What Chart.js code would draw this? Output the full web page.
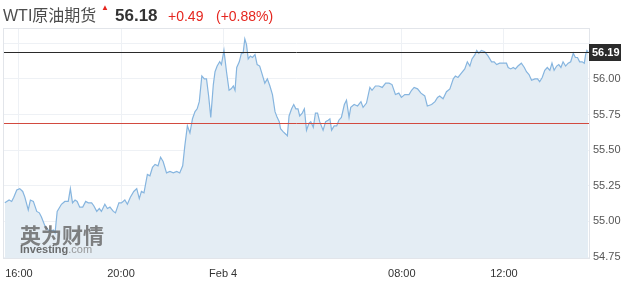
<!DOCTYPE html>
<html>
<head>
<meta charset="utf-8">
<script src="https://cdn.jsdelivr.net/npm/chart.js@4/dist/chart.umd.min.js"></script>
<style>
  html, body { margin: 0; padding: 0; background: #fff; }
  #wti { display: block; }
</style>
</head>
<body>
<canvas id="wti" width="623" height="290"></canvas>
<script>
// Trading minutes since 16:00 (Feb 3), daily break 06:00-07:00 taken out
const times = [
  -33, -23, -17, -12, -5, 2, 9, 14, 22, 27,
  34, 42, 48, 53, 61, 69, 74, 81, 85, 90,
  100, 108, 116, 121, 126, 132, 137, 143, 150, 157,
  163, 171, 176, 183, 189, 194, 202, 208, 214, 222,
  227, 235, 241, 249, 255, 262, 270, 277, 283, 288,
  294, 302, 308, 314, 320, 327, 333, 339, 347, 355,
  363, 371, 378, 385, 390, 396, 402, 408, 414, 419,
  424, 430, 436, 441, 446, 451, 457, 461, 466, 472,
  476, 482, 488, 494, 499, 504, 508, 512, 518, 523,
  527, 531, 535, 539, 544, 549, 555, 560, 566, 571,
  578, 584, 590, 596, 602, 607, 612, 615, 621, 628,
  631, 635, 641, 646, 651, 656, 660,
  666, 671, 676, 682, 686, 692, 697, 702, 707, 715,
  721, 727, 731, 735, 741, 747, 752, 758, 765, 770,
  776, 780, 788, 796, 804, 809, 817, 825, 830, 838,
  846, 854, 862, 870, 877, 885, 893, 899, 907, 917,
  923, 929, 937, 945, 954, 960, 970, 978, 984, 989,
  997, 1005, 1013, 1021, 1026, 1032, 1040, 1048, 1054, 1060,
  1065, 1072, 1076, 1081, 1087, 1095, 1103, 1111, 1117, 1123,
  1130, 1138, 1146, 1150, 1156, 1162, 1167, 1173, 1181, 1188,
  1193, 1199, 1205, 1213, 1219, 1224, 1230, 1236, 1242, 1248,
  1253, 1258, 1264, 1269, 1274, 1279, 1285, 1291, 1297, 1303,
  1308, 1313, 1318, 1324, 1329, 1332, 1335, 1338,
];

const prices = [
  55.13, 55.15, 55.14, 55.17, 55.22, 55.23, 55.21, 55.17, 55.08, 55.15,
  55.14, 55.07, 55.06, 55.03, 54.97, 54.94, 54.93, 54.94, 54.92, 55.07,
  55.12, 55.14, 55.14, 55.23, 55.13, 55.15, 55.14, 55.10, 55.10, 55.14,
  55.13, 55.13, 55.11, 55.07, 55.09, 55.07, 55.12, 55.09, 55.10, 55.07,
  55.06, 55.13, 55.13, 55.15, 55.12, 55.17, 55.21, 55.23, 55.16, 55.21,
  55.20, 55.33, 55.32, 55.38, 55.40, 55.39, 55.45, 55.42, 55.34, 55.35,
  55.34, 55.35, 55.34, 55.39, 55.53, 55.67, 55.62, 55.72, 55.77, 55.79,
  55.84, 56.02, 56.00, 56.00, 55.88, 55.73, 55.96, 56.05, 56.09, 56.12,
  56.10, 56.20, 56.05, 55.92, 55.93, 55.95, 55.92, 56.08, 56.12, 56.18,
  56.18, 56.28, 56.24, 56.14, 56.16, 56.15, 56.17, 56.10, 56.09, 56.04,
  55.97, 56.00, 55.95, 55.89, 55.77, 55.73, 55.70, 55.65, 55.63, 55.61,
  55.60, 55.74, 55.79, 55.82, 55.79, 55.79, 55.74,
  55.76, 55.79, 55.64, 55.69, 55.70, 55.66, 55.76, 55.76, 55.70, 55.64,
  55.70, 55.71, 55.72, 55.64, 55.67, 55.67, 55.71, 55.73, 55.82, 55.85,
  55.73, 55.80, 55.82, 55.81, 55.84, 55.80, 55.83, 55.94, 55.92, 55.95,
  55.95, 55.94, 55.97, 55.97, 55.96, 55.89, 55.90, 55.87, 55.89, 55.89,
  55.92, 55.94, 55.93, 55.90, 55.88, 55.81, 55.82, 55.84, 55.87, 55.88,
  55.86, 55.91, 55.93, 56.00, 56.02, 56.01, 56.04, 56.07, 56.12, 56.09,
  56.14, 56.17, 56.20, 56.18, 56.20, 56.19, 56.16, 56.12, 56.12, 56.10,
  56.11, 56.11, 56.11, 56.08, 56.07, 56.08, 56.07, 56.09, 56.11, 56.08,
  56.05, 56.03, 55.99, 56.00, 56.00, 55.98, 56.01, 56.06, 56.08, 56.06,
  56.11, 56.06, 56.09, 56.10, 56.08, 56.12, 56.09, 56.11, 56.12, 56.18,
  56.15, 56.15, 56.12, 56.12, 56.11, 56.17, 56.20, 56.19,
];

const tickTimes = [0, 240, 480, 900, 1140];
const tickLabels = ["16:00", "20:00", "Feb 4", "08:00", "12:00"];
const priceTicks = [54.75, 55.0, 55.25, 55.5, 55.75, 56.0, 56.25];

const lastPrice = 56.19;
const prevClose = 55.69;

// header text
const headName = "WTI原油期货";
const headPrice = "56.18";
const headChange = "+0.49";
const headPct = "(+0.88%)";

const FONT = "'Liberation Sans', Arial, 'Noto Sans CJK SC', sans-serif";

// Header, frame, reference lines, price tag, watermark
const decorPlugin = {
  id: "decor",
  beforeDatasetsDraw(chart) {
    const { ctx, chartArea: a } = chart;
    ctx.save();
    ctx.strokeStyle = "#e2e5ea";
    ctx.lineWidth = 1;
    ctx.strokeRect(a.left - 0.5, a.top - 0.5, a.right - a.left + 1, a.bottom - a.top + 1);
    ctx.restore();
  },
  afterDatasetsDraw(chart) {
    const { ctx, chartArea: a, scales } = chart;
    const y = scales.y;
    ctx.save();

    // watermark
    ctx.globalAlpha = 0.85;
    ctx.fillStyle = "#6b6b6b";
    ctx.font = "bold 21px 'Noto Sans CJK SC', sans-serif";
    ctx.textBaseline = "alphabetic";
    ctx.fillText("英为财情", a.left + 16, 243);
    ctx.fillStyle = "#555";
    ctx.font = "bold 11px " + FONT;
    ctx.fillText("Investing", a.left + 16, 253);
    const iw = ctx.measureText("Investing").width;
    ctx.fillStyle = "#8a8a8a";
    ctx.font = "11px " + FONT;
    ctx.fillText(".com", a.left + 16 + iw, 253);
    ctx.globalAlpha = 1;

    // previous close (red) and last price (dark) lines
    const yPrev = Math.round(y.getPixelForValue(prevClose)) + 0.5;
    const yLast = Math.round(y.getPixelForValue(lastPrice)) + 0.5;
    ctx.lineWidth = 1;
    ctx.strokeStyle = "#d24a3f";
    ctx.beginPath();
    ctx.moveTo(a.left, yPrev);
    ctx.lineTo(a.right, yPrev);
    ctx.stroke();
    ctx.strokeStyle = "#2a2a2a";
    ctx.beginPath();
    ctx.moveTo(a.left, yLast);
    ctx.lineTo(a.right, yLast);
    ctx.stroke();

    // price tag on the axis
    ctx.fillStyle = "#2b2b2b";
    ctx.fillRect(a.right, yLast - 8.5, 32, 17);
    ctx.fillStyle = "#fff";
    ctx.font = "bold 11px " + FONT;
    ctx.textBaseline = "middle";
    ctx.fillText(lastPrice.toFixed(2), a.right + 3, yLast + 0.5);
    ctx.restore();
  },
  afterDraw(chart) {
    const ctx = chart.ctx;
    ctx.save();
    ctx.textBaseline = "alphabetic";
    ctx.fillStyle = "#4d4d4d";
    ctx.font = "16px " + FONT;
    ctx.fillText(headName, 3, 21);
    ctx.fillStyle = "#e5261f";
    ctx.font = "8px " + FONT;
    ctx.fillText("▲", 101, 10);
    ctx.fillStyle = "#333";
    ctx.font = "bold 17px " + FONT;
    ctx.fillText(headPrice, 115, 21);
    ctx.fillStyle = "#e5261f";
    ctx.font = "14px " + FONT;
    ctx.fillText(headChange, 168, 21);
    ctx.fillText(headPct, 216, 21);
    ctx.restore();
  },
};

const ctx = document.getElementById("wti").getContext("2d");
new Chart(ctx, {
  type: "line",
  data: {
    datasets: [
      {
        data: times.map((t, i) => ({ x: t, y: prices[i] })),
        borderColor: "#86b5df",
        borderWidth: 1.2,
        backgroundColor: "#e4edf4",
        fill: "start",
        pointRadius: 0,
        tension: 0,
      },
    ],
  },
  options: {
    responsive: false,
    animation: false,
    layout: { padding: { left: 4, top: 29, right: 0, bottom: 0 } },
    plugins: {
      legend: { display: false },
      tooltip: { enabled: false },
    },
    scales: {
      x: {
        type: "linear",
        min: -35,
        max: 1340,
        afterBuildTicks: (s) => {
          s.ticks = tickTimes.map((v) => ({ value: v }));
        },
        afterFit: (s) => {
          s.height = 32;
          s.paddingLeft = 0;
          s.paddingRight = 0;
        },
        grid: { color: "#eef1f5", drawTicks: false },
        border: { display: false },
        ticks: {
          color: "#333",
          font: { family: FONT, size: 11 },
          padding: 9,
          maxRotation: 0,
          autoSkip: false,
          callback: (v) => tickLabels[tickTimes.indexOf(v)],
        },
      },
      y: {
        position: "right",
        min: 54.743,
        max: 56.35,
        afterBuildTicks: (s) => {
          s.ticks = priceTicks.map((v) => ({ value: v }));
        },
        afterFit: (s) => {
          s.width = 34;
          s.paddingTop = 0;
          s.paddingBottom = 0;
        },
        grid: { color: "#eef1f5", drawTicks: false },
        border: { display: false },
        ticks: {
          color: "#555",
          font: { family: FONT, size: 11 },
          padding: 4,
          callback: (v) => (v === 56.25 ? "" : v.toFixed(2)),
        },
      },
    },
  },
  plugins: [decorPlugin],
});
</script>
</body>
</html>
